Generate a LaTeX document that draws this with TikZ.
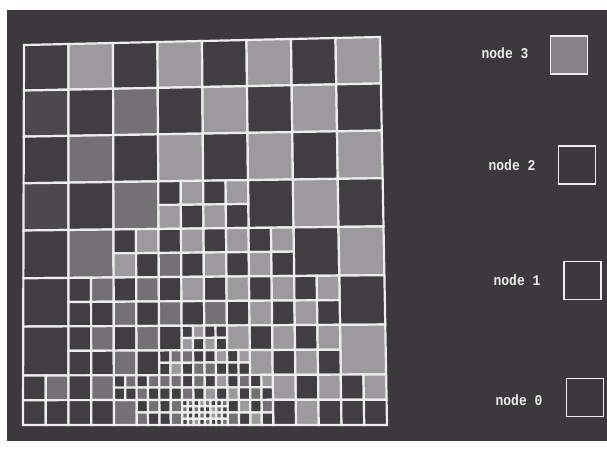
\documentclass[tikz,border=0pt]{standalone}
\usepackage{fontspec}
\setmonofont{Liberation Mono}
\definecolor{bgc}{HTML}{3B393B}
\definecolor{cD}{HTML}{403E41}
\definecolor{cE}{HTML}{4B494C}
\definecolor{cM}{HTML}{737174}
\definecolor{cL}{HTML}{9C9A9D}
\definecolor{gl}{HTML}{EEEDEE}
\tikzset{
  cellst/.style={draw=gl, line width=2.2pt, line join=miter},
  legtext/.style={text=gl, font=\ttfamily\bfseries\fontsize{13}{15}\selectfont, inner sep=0pt, yscale=1.15},
  legbox/.style={draw=gl, line width=1.8pt, minimum width=37pt, minimum height=38pt, inner sep=0pt}
}
% one mesh cell: column u, row v, size s, fill colour
\newcommand\gcell[4]{\filldraw[cellst,fill=#4] ({gx(#1,#2)},{gy(#1,#2)}) -- ({gx(#1+#3,#2)},{gy(#1+#3,#2)}) -- ({gx(#1+#3,#2+#3)},{gy(#1+#3,#2+#3)}) -- ({gx(#1,#2+#3)},{gy(#1,#2+#3)}) -- cycle;}
% a cell split in four: u v s TL TR BL BR
\newcommand\qd[7]{%
  \gcell{#1}{#2}{(#3)/2}{#4}%
  \gcell{#1+(#3)/2}{#2}{(#3)/2}{#5}%
  \gcell{#1}{#2+(#3)/2}{(#3)/2}{#6}%
  \gcell{#1+(#3)/2}{#2+(#3)/2}{(#3)/2}{#7}}
\begin{document}
\begin{tikzpicture}[x=1pt,y=-1pt,
  declare function={gx(\x,\y)=24-\y/8+(356+\y)*\x/8;
                    gy(\x,\y)=45-\x+(380+\x)*(0.952507*\y/8+0.047493*(\y/8)^2);}]
\useasboundingbox (0,0) rectangle (607,448);
\fill[white] (0,0) rectangle (607,448);
\fill[bgc] (7,10) rectangle (607,441);
% coarse cells
\foreach \cu/\cv/\cc in {0/0/cD,1/0/cL,2/0/cD,3/0/cL,4/0/cD,5/0/cL,6/0/cD,7/0/cL,
  0/1/cE,1/1/cD,2/1/cM,3/1/cD,4/1/cL,5/1/cD,6/1/cL,7/1/cD,
  0/2/cD,1/2/cM,2/2/cD,3/2/cL,4/2/cD,5/2/cL,6/2/cD,7/2/cL,
  0/3/cE,1/3/cD,2/3/cM,5/3/cD,6/3/cL,7/3/cD,
  0/4/cD,1/4/cM,6/4/cD,7/4/cL,
  0/5/cD,7/5/cD,
  0/6/cD,7/6/cL}{\gcell{\cu}{\cv}{1}{\cc}}
% level 1
\qd{3}{3}{1}{cD}{cL}{cL}{cD}
\qd{4}{3}{1}{cD}{cL}{cL}{cD}
\qd{2}{4}{1}{cD}{cL}{cL}{cD}
\qd{3}{4}{1}{cD}{cL}{cM}{cD}
\qd{4}{4}{1}{cD}{cL}{cL}{cD}
\qd{5}{4}{1}{cD}{cL}{cL}{cD}
\qd{1}{5}{1}{cD}{cM}{cD}{cD}
\qd{2}{5}{1}{cD}{cM}{cM}{cD}
\qd{3}{5}{1}{cD}{cL}{cM}{cD}
\qd{4}{5}{1}{cD}{cL}{cM}{cD}
\qd{5}{5}{1}{cD}{cL}{cL}{cD}
\qd{6}{5}{1}{cD}{cL}{cL}{cD}
\qd{1}{6}{1}{cD}{cM}{cD}{cD}
\qd{2}{6}{1}{cD}{cM}{cM}{cD}
\qd{5}{6}{1}{cD}{cL}{cL}{cD}
\qd{6}{6}{1}{cD}{cL}{cL}{cD}
\qd{0}{7}{1}{cD}{cM}{cD}{cD}
\qd{1}{7}{1}{cD}{cM}{cD}{cD}
\qd{6}{7}{1}{cD}{cL}{cL}{cD}
\qd{7}{7}{1}{cD}{cL}{cD}{cD}
\gcell{3}{6}{0.5}{cD}
\gcell{4.5}{6}{0.5}{cL}
\gcell{2}{7.5}{0.5}{cM}
\gcell{5.5}{7}{0.5}{cL}
\gcell{5.5}{7.5}{0.5}{cD}
% level 2
\qd{3.5}{6}{0.5}{cD}{cL}{cL}{cD}
\qd{3}{6.5}{0.5}{cD}{cM}{cD}{cL}
\qd{3.5}{6.5}{0.5}{cM}{cD}{cD}{cM}
\qd{4}{6}{0.5}{cD}{cD}{cL}{cD}
\qd{4}{6.5}{0.5}{cD}{cL}{cM}{cD}
\qd{4.5}{6.5}{0.5}{cD}{cL}{cD}{cD}
\qd{2}{7}{0.5}{cD}{cM}{cD}{cD}
\qd{2.5}{7}{0.5}{cD}{cM}{cM}{cD}
\qd{2.5}{7.5}{0.5}{cD}{cM}{cM}{cD}
\qd{3}{7}{0.5}{cM}{cM}{cD}{cD}
\qd{3.5}{7}{0.5}{cD}{cM}{cM}{cD}
\qd{3}{7.5}{0.5}{cD}{cM}{cD}{cM}
\qd{4}{7}{0.5}{cD}{cL}{cL}{cD}
\qd{4.5}{7}{0.5}{cD}{cM}{cL}{cD}
\qd{4.5}{7.5}{0.5}{cD}{cL}{cM}{cD}
\qd{5}{7}{0.5}{cD}{cL}{cM}{cD}
\qd{5}{7.5}{0.5}{cD}{cM}{cL}{cD}
% level 3
\qd{3.5}{7.5}{0.25}{cD}{cM}{cM}{cD}
\qd{3.75}{7.5}{0.25}{cD}{cL}{cM}{cD}
\qd{3.5}{7.75}{0.25}{cM}{cD}{cD}{cM}
\qd{3.75}{7.75}{0.25}{cD}{cM}{cL}{cD}
\qd{4}{7.5}{0.25}{cM}{cD}{cD}{cL}
\qd{4.25}{7.5}{0.25}{cD}{cM}{cM}{cD}
\qd{4}{7.75}{0.25}{cD}{cL}{cM}{cD}
\qd{4.25}{7.75}{0.25}{cM}{cD}{cD}{cM}
% legend
\node[legtext] (t3) at (505,53) {node 3};
\node[legtext] (t2) at (512,165) {node 2};
\node[legtext] (t1) at (517,280) {node 1};
\node[legtext] (t0) at (519,400) {node 0};
\node[legbox, fill=cL!85!black] (b3) at (569,55) {};
\node[legbox, fill=bgc] (b2) at (577,165) {};
\node[legbox, fill=bgc] (b1) at (582.5,280.5) {};
\node[legbox, fill=bgc] (b0) at (585,397.5) {};
\end{tikzpicture}
\end{document}
